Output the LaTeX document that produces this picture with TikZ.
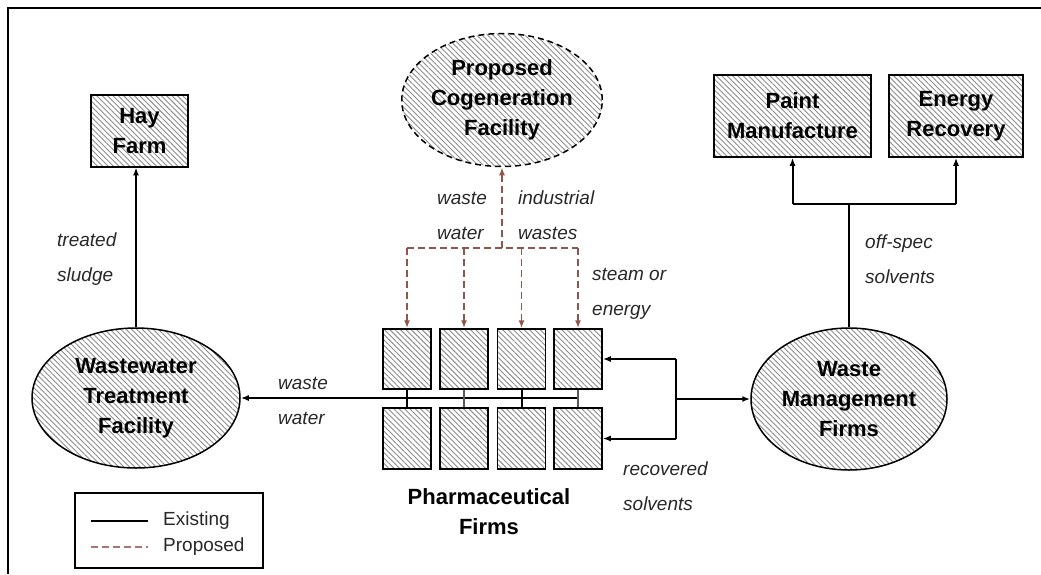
\documentclass[tikz,border=0pt]{standalone}
\usepackage{fontspec}
\setmainfont{Liberation Sans}
\usetikzlibrary{patterns.meta,arrows.meta,shapes.geometric}
\definecolor{propc}{RGB}{145,85,75}
\definecolor{txt}{RGB}{40,40,40}
\tikzset{
 hatch/.style={pattern={Lines[angle=-45,distance=3.8pt,line width=0.9pt]},pattern color=gray!90},
 bigfont/.style={font=\bfseries\fontsize{22}{30}\selectfont},
 boxnode/.style={draw,line width=1.5pt,hatch,inner sep=0pt,align=center,bigfont},
 ellnode/.style={ellipse,draw,line width=1.5pt,hatch,inner sep=0pt,align=center,bigfont},
 firm/.style={draw,line width=1.5pt,hatch,minimum width=48pt,minimum height=60pt,inner sep=0pt},
 arrowtip/.style={-{Latex[length=8pt,width=6pt]}},
 solidline/.style={line width=2pt},
 flowline/.style={solidline,arrowtip},
 propline/.style={draw=propc,line width=1.8pt,dash pattern=on 7pt off 4pt},
 lbl/.style={font=\itshape\fontsize{19}{35}\selectfont,text=txt,align=left,anchor=west,inner sep=0pt},
}
\begin{document}
\begin{tikzpicture}[x=1pt,y=-1pt]
\useasboundingbox (0,0) rectangle (1041,574);
\draw[line width=1.4pt] (8,574) -- (8,8) -- (1041,8);

% main nodes
\node[boxnode,minimum width=97pt,minimum height=72pt] (hay) at (139.5,131) {Hay\\Farm};
\node[ellnode,minimum width=208pt,minimum height=140pt] (wwtf) at (136,398) {Wastewater\\Treatment\\Facility};
\node[ellnode,dash pattern=on 6pt off 4pt,minimum width=200pt,minimum height=133pt] (cogen) at (502,100) {Proposed\\Cogeneration\\Facility};
\node[boxnode,minimum width=157pt,minimum height=82pt] (paint) at (792.5,116) {Paint\\Manufacture};
\node[boxnode,minimum width=134pt,minimum height=82pt] (energy) at (956,116) {Energy\\Recovery};
\node[ellnode,minimum width=196pt,minimum height=142pt] (wmf) at (849,399) {Waste\\Management\\Firms};

% pharmaceutical firms
\foreach \i/\x in {1/407,2/464,3/521.5,4/578}{
  \node[firm] (t\i) at (\x,359) {};
  \node[firm,minimum height=61pt] (b\i) at (\x,438.5) {};
}
\node[bigfont,align=center,inner sep=0pt] (pharma) at (489,511.5) {Pharmaceutical\\Firms};

% existing flows
\draw[flowline] (wwtf.north) -- (wwtf.north |- hay.south);
\draw[flowline] (t4.south |- wwtf.east) -- (wwtf.east);
\draw[line width=2pt] (t1.south) -- (b1.north);
\draw[line width=1.2pt,gray!70!black] (t2.south) -- (b2.north);
\draw[line width=2pt] (t3.south) -- (b3.north);
\draw[line width=1.2pt,gray!70!black] (t4.south) -- (b4.north);

\coordinate (rj) at (676,399);
\draw[solidline] (rj |- t4.east) -- (rj |- b4.east);
\draw[flowline] (rj |- t4.east) -- (t4.east);
\draw[flowline] (rj |- b4.east) -- (b4.east);
\draw[flowline] (rj) -- (wmf.west);

\coordinate (uj) at (849,204);
\draw[solidline] (wmf.north) -- (uj);
\draw[solidline] (paint.south |- uj) -- (energy.south |- uj);
\draw[flowline] (paint.south |- uj) -- (paint.south);
\draw[flowline] (energy.south |- uj) -- (energy.south);

% proposed flows
\coordinate (dj) at (502,248);
\draw[propline,arrowtip] (dj) -- (cogen.south);
\draw[propline] (t1.north |- dj) -- (t4.north |- dj);
\foreach \i in {1,...,4}{
  \draw[propline,arrowtip] (t\i.north |- dj) -- (t\i.north);
}

% labels
\node[lbl] (l1) at (57,259.5) {treated\\sludge};
\node[lbl] (l2) at (278,400.5) {waste\\water};
\node[lbl] (l3) at (437,215.5) {waste\\water};
\node[lbl] (l4) at (518,215.5) {industrial\\wastes};
\node[lbl] (l5) at (592,293.5) {steam or\\energy};
\node[lbl] (l6) at (623,486.5) {recovered\\solvents};
\node[lbl] (l7) at (865,259.5) {off-spec\\solvents};

% legend
\node[draw,line width=1.4pt,minimum width=188pt,minimum height=75pt,inner sep=0pt] (legend) at (169,530.5) {};
\draw[line width=2pt] (91,521) -- (148,521);
\draw[propline,draw=propc!80] (91,547) -- (148,547);
\node[anchor=west,inner sep=0pt,text=txt,font=\fontsize{19}{23}\selectfont] (ex) at (163,521) {Existing};
\node[anchor=west,inner sep=0pt,text=txt,font=\fontsize{19}{23}\selectfont] (pr) at (163,547) {Proposed};
\end{tikzpicture}
\end{document}
